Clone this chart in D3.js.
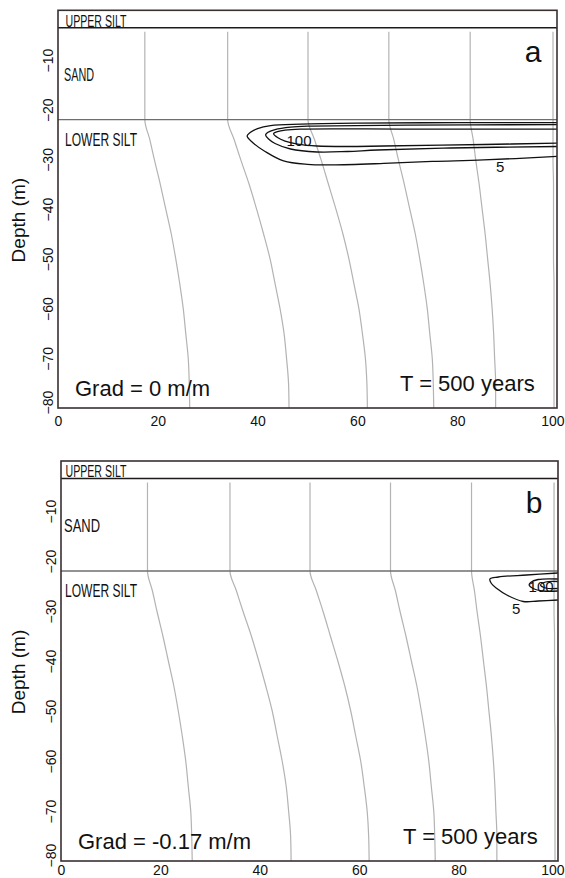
<!DOCTYPE html>
<html>
<head>
<meta charset="utf-8">
<script src="https://cdn.jsdelivr.net/npm/d3@7"></script>
<style>
  body { margin: 0; background: #fff; }
  svg { display: block; font-family: "Liberation Sans", Arial, sans-serif; }
  .layer { font-family: "Liberation Sans Narrow", "Liberation Sans", sans-serif; }
</style>
</head>
<body>
<script>
// ---- data ----
const xTicks = [0, 20, 40, 60, 80, 100];
const yTicks = [-10, -20, -30, -40, -50, -60, -70, -80];
const upperSiltBase = -3.5;
const lowerSiltTop = -22;
const sandTop = -4.3;

// equipotential lines: depth stations and x position of each line
const isoDepths = [-22, -26, -30, -35, -40, -45, -50, -55, -60, -65, -70, -75, -80];
const iso1 = [17.4, 18.4, 19.3, 20.5, 21.6, 22.7, 23.6, 24.4, 25.1, 25.6, 26.1, 26.3, 26.4];
const iso2 = [34.0, 35.3, 36.6, 38.3, 39.8, 41.2, 42.5, 43.5, 44.5, 45.3, 45.8, 46.2, 46.3];
const iso3 = [50.1, 51.4, 52.7, 54.2, 55.7, 57.1, 58.3, 59.3, 60.3, 61.0, 61.6, 61.9, 62.0];
const iso4 = [66.3, 67.3, 68.2, 69.4, 70.5, 71.6, 72.5, 73.3, 74.0, 74.5, 75.0, 75.2, 75.3];
const iso5 = [82.6, 83.2, 83.7, 84.4, 85.0, 85.6, 86.1, 86.6, 87.0, 87.3, 87.5, 87.7, 87.7];
const iso6 = [99.2, 99.2, 99.2, 99.3, 99.3, 99.3, 99.3, 99.4, 99.4, 99.4, 99.4, 99.4, 99.4];

// concentration contours, panel a  [x, depth]
const a5 = [[100,-22.6],[80,-22.6],[60,-22.7],[48.6,-22.9],[42.6,-23.2],[40,-23.8],[38.5,-24.6],[37.9,-25.3],
            [39,-26.6],[41.5,-28.4],[45.2,-30.3],[50,-31.0],[55,-31.1],[65.3,-30.8],[75,-30.4],[85.3,-30.1],[100,-29.4]];
const a50 = [[100,-23.0],[70,-23.1],[50,-23.3],[46.6,-23.5],[43.5,-24.0],[42,-24.6],[41.6,-25.1],[42.2,-25.9],
             [43.5,-26.8],[46.6,-27.9],[51.9,-28.5],[58,-28.4],[64,-28.1],[78.7,-27.7],[100,-27.4]];
const a100 = [[100,-23.9],[70,-23.9],[48.6,-23.9],[45.5,-24.1],[44,-24.4],[43.2,-24.8],[44,-25.6],[45.5,-26.3],
              [48,-26.9],[51.9,-27.3],[58,-27.4],[65.3,-27.3],[85.3,-27.0],[100,-26.7]];
// panel b
const b5 = [[100,-22.4],[93.7,-22.8],[88,-23.2],[86.3,-23.6],[86.6,-24.5],[87.7,-25.5],[89.7,-26.8],[93,-28.1],[96,-28.0],[100,-27.8]];
const b50 = [[100,-23.6],[96,-23.7],[94.5,-24.3],[94.2,-24.8],[95,-25.5],[97,-26.0],[100,-26.0]];
const b100 = [[100,-24.1],[97.5,-24.2],[96.5,-24.8],[97.5,-25.4],[100,-25.5]];

const contourLabels = [
  [{t: "100", x: 48.3, d: -27.3}, {t: "5", x: 88.6, d: -32.5}],
  [{t: "100", x: 96.6, d: -26.2}, {t: "5", x: 91.6, d: -30.6}]
];
const panelLetters = ["a", "b"];
const gradLabels = ["Grad = 0 m/m", "Grad = -0.17 m/m"];
const timeLabel = "T = 500 years";

// ---- layout ----
const W = 565, H = 878;
const panels = [
  { x0: 58, x1: 557, y0: 10.3, y1: 408, lab: 18, contours: [a5, a50, a100] },
  { x0: 61, x1: 558, y0: 461,  y1: 861, lab: 13.5, contours: [b5, b50, b100] }
];

const svg = d3.select("body").append("svg")
  .attr("width", W)
  .attr("height", H);

const isoLines = [iso1, iso2, iso3, iso4, iso5, iso6];

panels.forEach((p, i) => {
  const x = d3.scaleLinear().domain([0, 100]).range([p.x0, p.x1]);
  const y = d3.scaleLinear().domain([0, -80]).range([p.y0, p.y1]);
  const g = svg.append("g");

  g.append("clipPath").attr("id", "clip" + i)
    .append("rect")
    .attr("x", p.x0).attr("y", p.y0)
    .attr("width", p.x1 - p.x0).attr("height", p.y1 - p.y0);

  const plot = g.append("g").attr("clip-path", "url(#clip" + i + ")");

  // equipotentials
  const isoLine = d3.line()
    .x(d => x(d[0]))
    .y(d => y(d[1]))
    .curve(d3.curveMonotoneY);

  isoLines.forEach(xs => {
    const pts = [[xs[0], sandTop]].concat(xs.map((v, k) => [v, isoDepths[k]]));
    plot.append("path")
      .attr("d", isoLine(pts))
      .attr("fill", "none")
      .attr("stroke", "#b3b3b3")
      .attr("stroke-width", 1.2);
  });

  // layer boundaries
  plot.append("line")
    .attr("x1", p.x0).attr("x2", p.x1)
    .attr("y1", y(lowerSiltTop)).attr("y2", y(lowerSiltTop))
    .attr("stroke", "#6e6e6e")
    .attr("stroke-width", 1.3);

  plot.append("line")
    .attr("x1", p.x0).attr("x2", p.x1)
    .attr("y1", y(upperSiltBase)).attr("y2", y(upperSiltBase))
    .attr("stroke", "#1e1a1a")
    .attr("stroke-width", 1.6);

  // contours
  const cLine = d3.line()
    .x(d => x(d[0]))
    .y(d => y(d[1]))
    .curve(d3.curveCatmullRom.alpha(0.5));

  p.contours.forEach(c => {
    plot.append("path")
      .attr("d", cLine(c))
      .attr("fill", "none")
      .attr("stroke", "#111")
      .attr("stroke-width", 1.3);
  });

  contourLabels[i].forEach(l => {
    g.append("text")
      .attr("x", x(l.x)).attr("y", y(l.d))
      .attr("text-anchor", "middle")
      .attr("font-size", 15)
      .attr("fill", "#111")
      .text(l.t);
  });

  // frame
  g.append("rect")
    .attr("x", p.x0).attr("y", p.y0)
    .attr("width", p.x1 - p.x0).attr("height", p.y1 - p.y0)
    .attr("fill", "none")
    .attr("stroke", "#3a3030")
    .attr("stroke-width", 1.6);

  // axes
  const xAxis = g.append("g")
    .attr("transform", "translate(0," + p.y1 + ")")
    .call(d3.axisBottom(x).tickValues(xTicks).tickSize(0).tickPadding(0));
  xAxis.select(".domain").remove();
  xAxis.selectAll("text")
    .attr("y", p.lab).attr("dy", 0)
    .attr("x", d => d === 100 ? W - 1 - x(100) : 0)
    .attr("text-anchor", d => d === 100 ? "end" : "middle")
    .attr("font-size", 14)
    .attr("font-family", "Liberation Sans, Arial, sans-serif")
    .attr("fill", "#111");

  const yAxis = g.append("g")
    .attr("transform", "translate(" + p.x0 + ",0)")
    .call(d3.axisLeft(y).tickValues(yTicks).tickSize(0).tickPadding(0));
  yAxis.select(".domain").remove();
  yAxis.selectAll("text")
    .attr("transform", "rotate(-90)")
    .attr("x", d => d === -80 ? 6 : 0)
    .attr("y", -5).attr("dy", 0)
    .attr("text-anchor", "middle")
    .attr("font-size", 14)
    .attr("font-family", "Liberation Sans, Arial, sans-serif")
    .attr("fill", "#111");

  svg.append("text")
    .attr("transform", "translate(24.5," + ((p.y0 + p.y1) / 2 + 11) + ") rotate(-90)")
    .attr("text-anchor", "middle")
    .attr("font-size", 19)
    .attr("fill", "#111")
    .text("Depth (m)");

  // layer names
  const layers = [
    { t: "UPPER SILT", x: 65.5, yy: p.y0 + 16.3, fs: 16, w: 61 },
    { t: "SAND", x: 64, yy: p.y0 + 71, fs: 19, w: i === 0 ? 30 : 36 },
    { t: "LOWER SILT", x: 65, yy: p.y0 + 135.5, fs: 19, w: 72 }
  ];
  layers.forEach(l => {
    g.append("text")
      .attr("class", "layer")
      .attr("x", l.x).attr("y", l.yy)
      .attr("font-size", l.fs)
      .attr("textLength", l.w)
      .attr("lengthAdjust", "spacingAndGlyphs")
      .attr("fill", "#111")
      .text(l.t);
  });

  g.append("text")
    .attr("x", p.x1 - 24).attr("y", p.y0 + 52)
    .attr("text-anchor", "middle")
    .attr("font-size", 30)
    .attr("fill", "#111")
    .text(panelLetters[i]);

  g.append("text")
    .attr("x", p.x0 + 17).attr("y", p.y1 - 12)
    .attr("font-size", 22)
    .attr("fill", "#111")
    .text(gradLabels[i]);

  g.append("text")
    .attr("x", p.x0 + 342).attr("y", p.y1 - 17)
    .attr("font-size", 22)
    .attr("fill", "#111")
    .text(timeLabel);
});
</script>
</body>
</html>
